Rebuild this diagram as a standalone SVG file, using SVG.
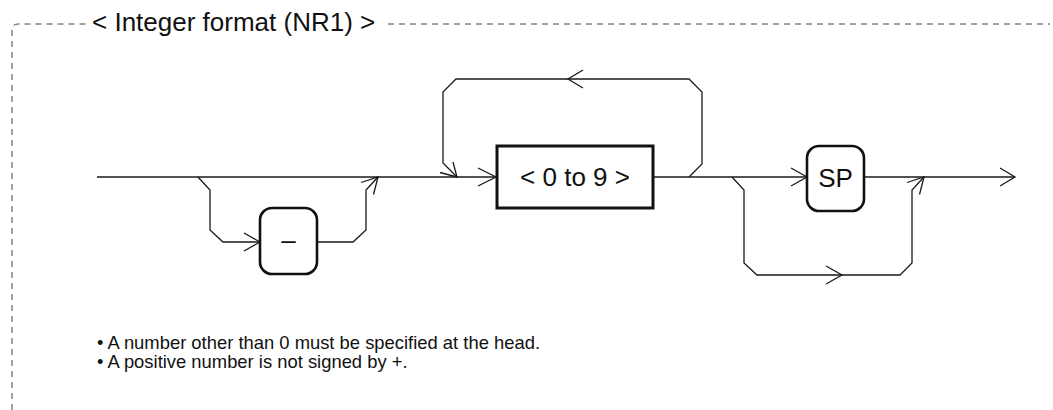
<svg xmlns="http://www.w3.org/2000/svg" width="1053" height="410" viewBox="0 0 1053 410">
<style>
.t{font-family:"Liberation Sans",Arial,Helvetica,sans-serif;fill:#111}
.frame{fill:none;stroke:#444;stroke-width:1;stroke-dasharray:6 5}
.ln{fill:none;stroke:#1a1a1a;stroke-width:1.3;stroke-linejoin:miter}
.ah{fill:none;stroke:#1a1a1a;stroke-width:1.3}
.rbox{fill:#fff;stroke:#111;stroke-width:2.6}
.sbox{fill:#fff;stroke:#111;stroke-width:3}
</style>
<rect width="1053" height="410" fill="#fff"/>
<g id="frame">
<path class="frame" d="M12,410 V30 Q12,24 18,24 H88"/>
<path class="frame" d="M388,24 H1050"/>
<text class="t" x="92" y="31" font-size="26">&lt; Integer format (NR1) &gt;</text>
</g>
<g id="connectors">
<path class="ln" d="M97,177 H496"/>
<path class="ln" d="M653,177 H807"/>
<path class="ln" d="M864,177 H1015"/>
<path class="ln" d="M198,177 L210,190 V230 L223,242 H260"/>
<path class="ln" d="M317,242 H353 L366,230 V190 L378,177"/>
<path class="ln" d="M689,177 L702,164 V92 L689,79 H456 L443,92 V163 L457,177"/>
<path class="ln" d="M732,177 L744,190 V263 L757,275 H900 L912,263 V190 L924,177"/>
<path class="ah" d="M244,233 L260,242 L244,251"/>
<path class="ah" d="M361,182.5 L378,177 L373.5,194.5"/>
<path class="ah" d="M583,70 L568,79 L583,88"/>
<path class="ah" d="M440,172.5 L457,177 L453,162"/>
<path class="ah" d="M478,168 L496,177 L478,186"/>
<path class="ah" d="M826,266 L842,275 L826,284"/>
<path class="ah" d="M907,182.5 L924,177 L919.5,194.5"/>
<path class="ah" d="M791,168 L807,177 L791,186"/>
<path class="ah" d="M1000,168 L1015,177 L1000,186"/>
</g>
<g id="node-minus">
<rect class="rbox" x="260" y="208" width="57" height="66" rx="12"/>
<text class="t" x="288.5" y="249" font-size="26" text-anchor="middle">–</text>
</g>
<g id="node-digits">
<rect class="sbox" x="497" y="146" width="156" height="62"/>
<text class="t" x="575" y="186" font-size="26" text-anchor="middle">&lt; 0 to 9 &gt;</text>
</g>
<g id="node-sp">
<rect class="rbox" x="807" y="146" width="57" height="65" rx="12"/>
<text class="t" x="835.5" y="187" font-size="26" text-anchor="middle">SP</text>
</g>
<g id="notes">
<text class="t" x="97" y="349" font-size="18.4">• A number other than 0 must be specified at the head.</text>
<text class="t" x="97" y="368" font-size="18.4">• A positive number is not signed by +.</text>
</g>
</svg>
